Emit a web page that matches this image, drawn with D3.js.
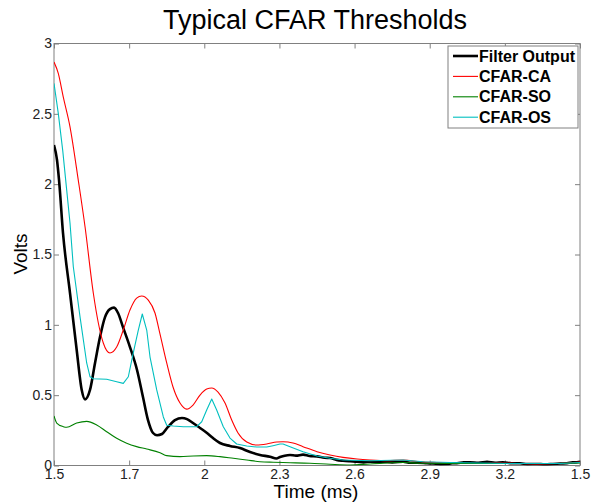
<!DOCTYPE html>
<html>
<head>
<meta charset="utf-8">
<script src="https://cdn.jsdelivr.net/npm/d3@7"></script>
<style>
  body { margin: 0; background: #fff; }
  svg { display: block; font-family: Arial, 'Liberation Sans', sans-serif; }
</style>
</head>
<body>
<div id="chart"></div>
<script>
const width = 592;
const height = 502;
const marginTop = 43.5;
const marginBottom = 36.5;
const marginLeft = 54;
const marginRight = 12;

// x is in tick steps (0..7), labels are the ones printed on the original
const tickLabels = ['1.5', '1.7', '2', '2.3', '2.6', '2.9', '3.2', '1.5'];
const yTicks = [0, 0.5, 1, 1.5, 2, 2.5, 3];

const filterOutput = [
    [0, 2.278], [0.04, 2.172], [0.067, 2.029], [0.12, 1.652], [0.213, 1.226],
    [0.302, 0.821], [0.369, 0.537], [0.413, 0.47], [0.479, 0.537], [0.546, 0.729],
    [0.612, 0.913], [0.679, 1.055], [0.745, 1.112], [0.799, 1.122], [0.852, 1.084],
    [0.918, 0.984], [1.011, 0.842], [1.105, 0.679], [1.184, 0.487], [1.251, 0.323],
    [1.318, 0.231], [1.371, 0.215], [1.437, 0.224], [1.517, 0.274], [1.61, 0.323],
    [1.703, 0.338], [1.77, 0.33], [1.85, 0.302], [1.943, 0.267], [2.036, 0.231],
    [2.116, 0.195], [2.209, 0.16], [2.342, 0.139], [2.475, 0.124], [2.609, 0.096],
    [2.742, 0.075], [2.875, 0.062], [2.96, 0.05], [3.008, 0.06], [3.07, 0.07],
    [3.141, 0.075], [3.22, 0.07], [3.314, 0.077], [3.4, 0.068], [3.5, 0.065],
    [3.6, 0.055], [3.673, 0.053], [3.76, 0.04], [3.846, 0.034], [3.94, 0.03],
    [4.033, 0.027], [4.12, 0.022], [4.206, 0.027], [4.3, 0.024], [4.378, 0.027],
    [4.5, 0.022], [4.645, 0.027], [4.74, 0.02], [4.831, 0.02], [4.964, 0.016],
    [5.044, 0.014], [5.14, 0.01], [5.23, 0.011], [5.3, 0.016], [5.363, 0.016],
    [5.45, 0.022], [5.536, 0.023], [5.65, 0.02], [5.763, 0.027], [5.87, 0.02],
    [5.975, 0.023], [6.09, 0.016], [6.202, 0.016], [6.3, 0.01], [6.428, 0.011],
    [6.53, 0.008], [6.641, 0.011], [6.74, 0.014], [6.827, 0.016], [6.9, 0.022],
    [6.96, 0.023], [7, 0.027]
];

const cfarCA = [
    [0, 2.868], [0.057, 2.788], [0.123, 2.621], [0.213, 2.408], [0.323, 2.029],
    [0.413, 1.697], [0.523, 1.226], [0.59, 1.013], [0.656, 0.871], [0.745, 0.8],
    [0.834, 0.842], [0.922, 0.963], [1.011, 1.105], [1.1, 1.19], [1.167, 1.205],
    [1.255, 1.176], [1.344, 1.084], [1.411, 0.934], [1.5, 0.729], [1.584, 0.558],
    [1.677, 0.444], [1.766, 0.401], [1.85, 0.43], [1.943, 0.501], [2.032, 0.544],
    [2.099, 0.551], [2.183, 0.522], [2.276, 0.444], [2.365, 0.323], [2.449, 0.231],
    [2.565, 0.167], [2.698, 0.146], [2.831, 0.153], [2.964, 0.167], [3.048, 0.169],
    [3.181, 0.16], [3.314, 0.134], [3.5, 0.098], [3.673, 0.075], [3.846, 0.058],
    [4.033, 0.046], [4.206, 0.039], [4.432, 0.034], [4.645, 0.039], [4.871, 0.027],
    [5.137, 0.021], [5.403, 0.014], [5.669, 0.014], [5.935, 0.018], [6.202, 0.014],
    [6.468, 0.011], [6.734, 0.014], [7, 0.025]
];

const cfarSO = [
    [0, 0.352], [0.036, 0.302], [0.124, 0.276], [0.169, 0.272], [0.302, 0.302],
    [0.435, 0.314], [0.568, 0.288], [0.701, 0.24], [0.834, 0.193], [0.967, 0.158],
    [1.1, 0.134], [1.234, 0.117], [1.411, 0.091], [1.5, 0.07], [1.677, 0.063],
    [1.854, 0.068], [2.032, 0.07], [2.209, 0.063], [2.387, 0.051], [2.565, 0.039],
    [2.742, 0.027], [2.919, 0.023], [3.141, 0.02], [3.407, 0.016], [3.673, 0.009],
    [3.939, 0.004], [4.206, 0.011], [4.645, 0.021], [4.871, 0.016], [5.27, 0.014],
    [5.669, 0.014], [6.069, 0.014], [6.468, 0.014], [7, 0.018]
];

const cfarOS = [
    [0, 2.716], [0.057, 2.503], [0.116, 2.24], [0.169, 1.958], [0.213, 1.724],
    [0.257, 1.413], [0.346, 1.058], [0.435, 0.729], [0.479, 0.631], [0.523, 0.617],
    [0.701, 0.613], [0.834, 0.596], [0.922, 0.584], [0.989, 0.631], [1.055, 0.8],
    [1.122, 0.963], [1.175, 1.077], [1.234, 0.963], [1.278, 0.771], [1.367, 0.537],
    [1.455, 0.345], [1.5, 0.286], [1.588, 0.281], [1.721, 0.276], [1.899, 0.276],
    [1.966, 0.311], [2.032, 0.394], [2.099, 0.473], [2.165, 0.394], [2.253, 0.276],
    [2.342, 0.195], [2.431, 0.153], [2.565, 0.139], [2.698, 0.131], [2.831, 0.131],
    [2.915, 0.141], [3.008, 0.153], [3.048, 0.153], [3.141, 0.134], [3.314, 0.098],
    [3.5, 0.068], [3.673, 0.051], [3.846, 0.039], [4.206, 0.034], [4.645, 0.039],
    [4.911, 0.027], [5.27, 0.021], [5.669, 0.018], [6.069, 0.014], [6.468, 0.014],
    [6.734, 0.014], [7, 0.021]
];

const series = [
    { name: 'Filter Output', data: filterOutput, color: '#000000', width: 2.6, curve: d3.curveMonotoneX },
    { name: 'CFAR-CA', data: cfarCA, color: '#ff0000', width: 1.1, curve: d3.curveMonotoneX },
    { name: 'CFAR-SO', data: cfarSO, color: '#008000', width: 1.1, curve: d3.curveMonotoneX },
    { name: 'CFAR-OS', data: cfarOS, color: '#00bfbf', width: 1.1, curve: d3.curveLinear }
];

const svg = d3.select('#chart')
    .append('svg')
    .attr('width', width)
    .attr('height', height);

const x = d3.scaleLinear()
    .domain([0, 7])
    .range([marginLeft, width - marginRight]);

const y = d3.scaleLinear()
    .domain([0, 3])
    .range([height - marginBottom, marginTop]);

const axisColor = '#808080';

// bottom + top axes, ticks pointing in
const xBottom = svg.append('g')
    .attr('transform', `translate(0,${height - marginBottom})`)
    .call(d3.axisBottom(x)
        .tickValues(d3.range(8))
        .tickFormat((d, i) => tickLabels[i])
        .tickSizeInner(-5)
        .tickSizeOuter(0)
        .tickPadding(4));

const xTop = svg.append('g')
    .attr('transform', `translate(0,${marginTop})`)
    .call(d3.axisTop(x)
        .tickValues(d3.range(8))
        .tickFormat('')
        .tickSizeInner(-5)
        .tickSizeOuter(0));

const yLeft = svg.append('g')
    .attr('transform', `translate(${marginLeft},0)`)
    .call(d3.axisLeft(y)
        .tickValues(yTicks)
        .tickFormat(d3.format('~g'))
        .tickSizeInner(-5)
        .tickSizeOuter(0)
        .tickPadding(2));

const yRight = svg.append('g')
    .attr('transform', `translate(${width - marginRight},0)`)
    .call(d3.axisRight(y)
        .tickValues(yTicks)
        .tickFormat('')
        .tickSizeInner(-5)
        .tickSizeOuter(0));

[xBottom, xTop, yLeft, yRight].forEach((g) => {
    g.select('.domain').remove();
    g.selectAll('.tick line').attr('stroke', axisColor);
    g.selectAll('.tick text')
        .style('font-size', '14px')
        .style('font-family', 'Arial, Liberation Sans, sans-serif')
        .attr('fill', '#222');
});

svg.append('rect')
    .attr('x', marginLeft)
    .attr('y', marginTop)
    .attr('width', width - marginLeft - marginRight)
    .attr('height', height - marginTop - marginBottom)
    .attr('fill', 'none')
    .attr('stroke', axisColor)
    .attr('stroke-width', 1);

svg.append('clipPath')
    .attr('id', 'plotclip')
    .append('rect')
    .attr('x', marginLeft)
    .attr('y', marginTop)
    .attr('width', width - marginLeft - marginRight)
    .attr('height', height - marginTop - marginBottom);

series.forEach((s) => {
    const line = d3.line()
        .x((d) => x(d[0]))
        .y((d) => y(d[1]))
        .curve(s.curve);
    svg.append('path')
        .datum(s.data)
        .attr('clip-path', 'url(#plotclip)')
        .attr('d', line)
        .attr('fill', 'none')
        .attr('stroke', s.color)
        .attr('stroke-width', s.width)
        .attr('stroke-linejoin', 'round');
});

// legend
const legend = svg.append('g')
    .attr('class', 'legend')
    .attr('transform', 'translate(448,46)');

legend.append('rect')
    .attr('width', 130)
    .attr('height', 82)
    .attr('fill', '#fff')
    .attr('stroke', axisColor);

series.forEach((s, i) => {
    const ly = 10 + i * 20.4;
    legend.append('line')
        .attr('x1', 5)
        .attr('x2', 30)
        .attr('y1', ly)
        .attr('y2', ly)
        .attr('stroke', s.color)
        .attr('stroke-width', s.width);
    legend.append('text')
        .attr('x', 31)
        .attr('y', ly + 5.5)
        .text(s.name)
        .style('font-size', '16px')
        .style('font-weight', 'bold')
        .style('font-family', 'Arial, Liberation Sans, sans-serif');
});

svg.append('text')
    .attr('class', 'title')
    .attr('x', 315)
    .attr('y', 29)
    .text('Typical CFAR Thresholds')
    .style('font-size', '27px')
    .style('text-anchor', 'middle')
    .style('font-family', 'Arial, Liberation Sans, sans-serif');

svg.append('text')
    .attr('class', 'xlabel')
    .attr('x', 316)
    .attr('y', 498)
    .text('Time (ms)')
    .style('font-size', '19px')
    .style('text-anchor', 'middle')
    .style('font-family', 'Arial, Liberation Sans, sans-serif');

svg.append('text')
    .attr('class', 'ylabel')
    .attr('x', -254)
    .attr('y', 27)
    .attr('transform', 'rotate(-90)')
    .text('Volts')
    .style('font-size', '19px')
    .style('text-anchor', 'middle')
    .style('font-family', 'Arial, Liberation Sans, sans-serif');
</script>
</body>
</html>
